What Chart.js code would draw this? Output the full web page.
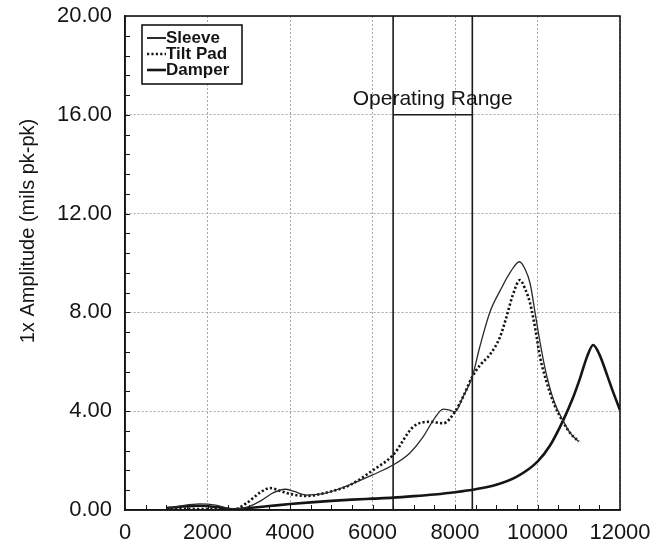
<!DOCTYPE html>
<html>
<head>
<meta charset="utf-8">
<script src="https://cdn.jsdelivr.net/npm/chart.js@4/dist/chart.umd.min.js"></script>
<style>
  html, body { margin: 0; padding: 0; background: #fff; }
  #wrap { width: 656px; height: 553px; }
</style>
</head>
<body>
<div id="wrap"><canvas id="c" width="656" height="553"></canvas></div>
<script>
// Rotor speed (rpm) and 1x response amplitude (mils pk-pk) per bearing configuration
const sleeveRpm = [1000, 1400, 1800, 2200, 2650, 3000, 3300, 3600, 3880, 4100, 4400, 4800, 5200, 5700, 6000, 6500, 6900, 7230, 7500, 7715, 7850, 8000, 8200, 8420, 8600, 8850, 9100, 9350, 9560, 9700, 9820, 9950, 10050, 10200, 10400, 10625, 10800, 11000];
const sleeveAmp = [0.05, 0.18, 0.25, 0.20, 0.03, 0.14, 0.38, 0.70, 0.84, 0.75, 0.60, 0.66, 0.86, 1.20, 1.42, 1.82, 2.30, 2.97, 3.70, 4.08, 4.05, 3.98, 4.60, 5.40, 6.60, 8.03, 8.90, 9.65, 10.05, 9.75, 9.18, 7.90, 6.90, 5.60, 4.40, 3.60, 3.10, 2.77];

const tiltPadRpm = [1000, 1500, 2000, 2650, 2950, 3270, 3515, 3750, 4000, 4400, 4970, 5455, 6000, 6500, 6990, 7390, 7715, 8000, 8200, 8420, 8600, 8850, 9090, 9250, 9400, 9575, 9700, 9820, 9950, 10060, 10200, 10400, 10625, 10800, 11000];
const tiltPadAmp = [0.03, 0.05, 0.03, 0.03, 0.28, 0.70, 0.89, 0.78, 0.65, 0.57, 0.74, 1.01, 1.60, 2.23, 3.37, 3.57, 3.51, 3.98, 4.60, 5.40, 5.85, 6.30, 7.00, 7.83, 8.70, 9.31, 8.95, 8.37, 7.30, 6.20, 5.30, 4.30, 3.55, 3.10, 2.77];

const damperRpm = [1000, 1400, 1800, 2200, 2650, 3000, 3500, 4000, 4500, 5000, 5500, 6000, 6500, 7000, 7500, 8000, 8500, 9000, 9500, 10000, 10300, 10625, 10850, 11030, 11200, 11350, 11500, 11700, 11850, 12000];
const damperAmp = [0.08, 0.14, 0.17, 0.12, 0.03, 0.08, 0.16, 0.24, 0.31, 0.37, 0.42, 0.46, 0.50, 0.56, 0.63, 0.72, 0.84, 1.02, 1.35, 1.96, 2.60, 3.64, 4.50, 5.33, 6.20, 6.68, 6.30, 5.40, 4.70, 4.05];

// Operating speed band and the level of its bracket
const operatingRange = [6500, 8420];
const rangeLevel = 16;
const rangeLabel = 'Operating Range';

// Axis ranges and tick steps
const xMin = 0, xMax = 12000, xStep = 2000, xMinorStep = 500;
const yMin = 0, yMax = 20, yStep = 4, yMinorStep = 0.8;
const yTitle = '1x Amplitude (mils pk-pk)';

const FONT = '"Liberation Sans", Arial, Helvetica, sans-serif';
const INK = '#151515';

const pts = (xs, ys) => xs.map((x, i) => ({ x: x, y: ys[i] }));

const series = [
  { label: 'Sleeve',   data: pts(sleeveRpm, sleeveAmp),   borderColor: '#2a2a2a', borderWidth: 1.3, borderDash: [] },
  { label: 'Tilt Pad', data: pts(tiltPadRpm, tiltPadAmp), borderColor: '#151515', borderWidth: 2.6, borderDash: [2.2, 2.2] },
  { label: 'Damper',   data: pts(damperRpm, damperAmp),   borderColor: '#151515', borderWidth: 2.6, borderDash: [] }
];

const datasets = series.map(s => ({
  label: s.label,
  data: s.data,
  borderColor: s.borderColor,
  borderWidth: s.borderWidth,
  borderDash: s.borderDash,
  pointRadius: 0,
  fill: false,
  cubicInterpolationMode: 'monotone'
}));

// Operating range bracket: two full-height verticals joined at rangeLevel
const bracket = [
  [{ x: operatingRange[0], y: yMin }, { x: operatingRange[0], y: yMax }],
  [{ x: operatingRange[1], y: yMin }, { x: operatingRange[1], y: yMax }],
  [{ x: operatingRange[0], y: rangeLevel }, { x: operatingRange[1], y: rangeLevel }]
];
bracket.forEach(seg => datasets.push({
  label: '',
  data: seg,
  borderColor: '#1a1a1a',
  borderWidth: 1.6,
  pointRadius: 0,
  tension: 0,
  fill: false
}));

const decorations = {
  id: 'decorations',
  afterDatasetsDraw(chart) {
    const { ctx, chartArea: a, scales: { x, y } } = chart;
    ctx.save();

    // frame
    ctx.strokeStyle = INK;
    ctx.lineWidth = 1.6;
    ctx.setLineDash([]);
    ctx.strokeRect(a.left, a.top, a.right - a.left, a.bottom - a.top);

    // inward minor ticks on the left and bottom axes
    ctx.lineWidth = 1;
    ctx.beginPath();
    for (let v = yMin + yMinorStep; v < yMax - 1e-6; v += yMinorStep) {
      const py = Math.round(y.getPixelForValue(v)) + 0.5;
      ctx.moveTo(a.left, py); ctx.lineTo(a.left + 5, py);
    }
    for (let v = xMin + xMinorStep; v < xMax; v += xMinorStep) {
      const px = Math.round(x.getPixelForValue(v)) + 0.5;
      ctx.moveTo(px, a.bottom); ctx.lineTo(px, a.bottom - 5);
    }
    ctx.stroke();

    // operating range caption
    ctx.fillStyle = INK;
    ctx.font = '21px ' + FONT;
    ctx.textAlign = 'center';
    ctx.textBaseline = 'alphabetic';
    const cx = (x.getPixelForValue(operatingRange[0]) + x.getPixelForValue(operatingRange[1])) / 2;
    ctx.fillText(rangeLabel, cx, y.getPixelForValue(rangeLevel) - 10);

    // legend box
    const lx = 142, ly = 25, lw = 100, lh = 59;
    ctx.fillStyle = '#fff';
    ctx.fillRect(lx, ly, lw, lh);
    ctx.strokeStyle = INK;
    ctx.lineWidth = 1.6;
    ctx.strokeRect(lx, ly, lw, lh);
    ctx.font = 'bold 17px ' + FONT;
    ctx.textAlign = 'left';
    series.forEach((s, i) => {
      const base = 43 + i * 16;
      ctx.beginPath();
      ctx.strokeStyle = s.borderColor;
      ctx.lineWidth = s.borderWidth === 1.3 ? 2 : s.borderWidth;
      ctx.setLineDash(s.borderDash);
      ctx.moveTo(147, base - 5);
      ctx.lineTo(166, base - 5);
      ctx.stroke();
      ctx.setLineDash([]);
      ctx.fillStyle = INK;
      ctx.fillText(s.label, 166, base);
    });

    // y axis title
    ctx.save();
    ctx.translate(28, 231);
    ctx.rotate(-Math.PI / 2);
    ctx.font = '20px ' + FONT;
    ctx.textAlign = 'center';
    ctx.textBaseline = 'middle';
    ctx.fillStyle = INK;
    ctx.fillText(yTitle, 0, 0);
    ctx.restore();

    ctx.restore();
  }
};

new Chart(document.getElementById('c'), {
  type: 'line',
  data: { datasets: datasets },
  options: {
    responsive: false,
    animation: false,
    devicePixelRatio: 1,
    layout: { padding: { left: 0, top: 16, right: 36, bottom: 0 } },
    plugins: { legend: { display: false }, tooltip: { enabled: false } },
    scales: {
      x: {
        type: 'linear',
        min: xMin, max: xMax,
        afterFit(scale) {
          scale.height = 43;
          scale.paddingLeft = 0;
          scale.paddingRight = 0;
        },
        ticks: {
          stepSize: xStep,
          padding: 10,
          color: INK,
          font: { family: FONT, size: 22 },
          maxRotation: 0,
          callback: v => String(v)
        },
        grid: { color: '#a8a8a8', lineWidth: 1, drawTicks: false },
        border: { display: true, color: INK, width: 1.6, dash: [2, 2] }
      },
      y: {
        min: yMin, max: yMax,
        afterFit(scale) {
          scale.width = 125;
          scale.paddingTop = 0;
          scale.paddingBottom = 0;
        },
        ticks: {
          stepSize: yStep,
          padding: 13,
          color: INK,
          font: { family: FONT, size: 22 },
          callback: v => v.toFixed(2)
        },
        grid: { color: '#a8a8a8', lineWidth: 1, drawTicks: false },
        border: { display: true, color: INK, width: 1.6, dash: [2, 2] }
      }
    }
  },
  plugins: [decorations]
});
</script>
</body>
</html>
